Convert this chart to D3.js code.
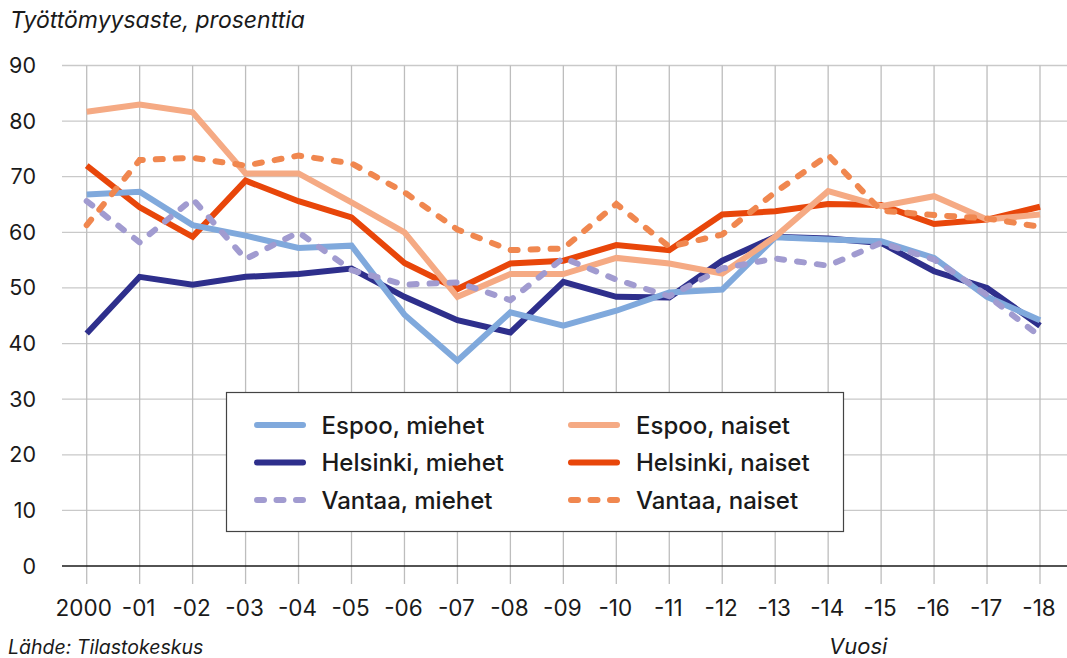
<!DOCTYPE html>
<html>
<head>
<meta charset="utf-8">
<script src="https://cdn.jsdelivr.net/npm/d3@7"></script>
<style>
  body { margin: 0; background: #fff; }
  svg { display: block; font-family: Inter, "Noto Sans", sans-serif; }
</style>
</head>
<body>
<div id="chart"></div>
<script>
// Years and tick labels
const years = d3.range(2000, 2019);
const yearLabels = ["2000", "-01", "-02", "-03", "-04", "-05", "-06", "-07", "-08", "-09",
                    "-10", "-11", "-12", "-13", "-14", "-15", "-16", "-17", "-18"];
const yTicks = [0, 10, 20, 30, 40, 50, 60, 70, 80, 90];

// Series values
const espooMiehet     = [66.8, 67.3, 61.3, 59.4, 57.2, 57.6, 45.2, 36.9, 45.6, 43.2, 45.9, 49.2, 49.7, 59.1, 58.7, 58.4, 55.4, 48.4, 44.2];
const espooNaiset     = [81.7, 83.0, 81.6, 70.6, 70.6, 65.4, 60.0, 48.4, 52.5, 52.5, 55.4, 54.4, 52.6, 59.2, 67.4, 64.7, 66.5, 62.3, 63.2];
const helsinkiMiehet  = [41.8, 52.0, 50.6, 52.0, 52.5, 53.5, 48.4, 44.2, 42.0, 51.1, 48.4, 48.3, 54.9, 59.2, 58.9, 58.1, 53.0, 50.0, 43.2];
const helsinkiNaiset  = [72.0, 64.5, 59.2, 69.3, 65.6, 62.7, 54.5, 49.8, 54.4, 54.9, 57.7, 56.8, 63.2, 63.8, 65.1, 64.9, 61.5, 62.3, 64.6];
const vantaaMiehet    = [65.6, 58.2, 66.0, 55.2, 60.0, 53.2, 50.6, 51.0, 47.8, 55.4, 51.5, 48.5, 53.5, 55.3, 54.0, 58.1, 55.1, 48.7, 41.3];
const vantaaNaiset    = [61.3, 73.0, 73.4, 72.0, 73.8, 72.4, 67.2, 60.5, 56.8, 57.1, 65.1, 57.4, 59.6, 67.2, 73.9, 63.9, 63.1, 62.5, 61.0];

const series = [
  { name: "Helsinki, miehet", values: helsinkiMiehet, color: "#2e2f8c", dashed: false },
  { name: "Helsinki, naiset", values: helsinkiNaiset, color: "#e8460a", dashed: false },
  { name: "Espoo, miehet",    values: espooMiehet,    color: "#80a9dc", dashed: false },
  { name: "Espoo, naiset",    values: espooNaiset,    color: "#f5aa84", dashed: false },
  { name: "Vantaa, miehet",   values: vantaaMiehet,   color: "#a19bd0", dashed: true },
  { name: "Vantaa, naiset",   values: vantaaNaiset,   color: "#f0874f", dashed: true }
];

// Legend layout: column-major like the original
const legendOrder = ["Espoo, miehet", "Helsinki, miehet", "Vantaa, miehet",
                     "Espoo, naiset", "Helsinki, naiset", "Vantaa, naiset"];

const width = 1067, height = 658;
const plotLeft = 62, plotRight = 1067;

const svg = d3.select("#chart").append("svg")
  .attr("width", width)
  .attr("height", height);

const x = d3.scalePoint()
  .domain(years)
  .range([86.7, 1040]);

const y = d3.scaleLinear()
  .domain([0, 90])
  .range([566, 65.5]);

// Horizontal grid
svg.append("g")
  .selectAll("line")
  .data(yTicks.filter(d => d !== 0))
  .join("line")
  .attr("x1", plotLeft).attr("x2", plotRight)
  .attr("y1", d => y(d)).attr("y2", d => y(d))
  .attr("stroke", "#c9c9c9")
  .attr("stroke-width", 1.3);

// Vertical grid (extends below baseline as tick marks)
svg.append("g")
  .selectAll("line")
  .data(years)
  .join("line")
  .attr("x1", d => x(d)).attr("x2", d => x(d))
  .attr("y1", y(90)).attr("y2", 584)
  .attr("stroke", "#bdbdbd")
  .attr("stroke-width", 1.3);

// Baseline
svg.append("line")
  .attr("x1", plotLeft).attr("x2", plotRight)
  .attr("y1", y(0)).attr("y2", y(0))
  .attr("stroke", "#1a1a1a")
  .attr("stroke-width", 1.6);

// Y tick labels
svg.append("g")
  .selectAll("text")
  .data(yTicks)
  .join("text")
  .attr("x", 36)
  .attr("y", d => y(d) + 7.5)
  .attr("text-anchor", "end")
  .attr("font-size", 21.5)
  .attr("fill", "#1a1a1a")
  .text(d => d);

// X tick labels
svg.append("g")
  .selectAll("text")
  .data(years)
  .join("text")
  .attr("x", (d, i) => x(d) - (i === 0 ? 3 : 1))
  .attr("y", 616)
  .attr("text-anchor", "middle")
  .attr("font-size", 22.5)
  .attr("fill", "#1a1a1a")
  .text((d, i) => yearLabels[i]);

// Lines
const line = d3.line()
  .x((d, i) => x(years[i]))
  .y(d => y(d));

svg.append("g")
  .selectAll("path")
  .data(series)
  .join("path")
  .attr("d", d => line(d.values))
  .attr("fill", "none")
  .attr("stroke", d => d.color)
  .attr("stroke-width", 6)
  .attr("stroke-linejoin", "miter")
  .attr("stroke-linecap", d => d.dashed ? "round" : "butt")
  .attr("stroke-dasharray", d => d.dashed ? "7,13" : null);

// Legend
const legend = svg.append("g");
legend.append("rect")
  .attr("x", 226.5).attr("y", 392.5)
  .attr("width", 617).attr("height", 139)
  .attr("fill", "#fff")
  .attr("stroke", "#444")
  .attr("stroke-width", 1.2);

const legendItems = legendOrder.map((name, i) => {
  const s = series.find(d => d.name === name);
  return { ...s, col: Math.floor(i / 3), row: i % 3 };
});

const colX = [254, 568];
const rowY = [425, 462.5, 500];

const item = legend.selectAll("g.item")
  .data(legendItems)
  .join("g")
  .attr("class", "item")
  .attr("transform", d => `translate(${colX[d.col]},${rowY[d.row]})`);

item.append("line")
  .attr("x1", 3).attr("x2", 49)
  .attr("y1", 0).attr("y2", 0)
  .attr("stroke", d => d.color)
  .attr("stroke-width", 6)
  .attr("stroke-linecap", "round")
  .attr("stroke-dasharray", d => d.dashed ? "7,12.5" : null);

item.append("text")
  .attr("x", d => d.col === 0 ? 67.5 : 68)
  .attr("y", 8.5)
  .attr("font-size", 24)
  .attr("font-weight", 500)
  .attr("fill", "#1a1a1a")
  .text(d => d.name);

// Titles
svg.append("text")
  .attr("x", 10).attr("y", 28)
  .attr("font-size", 23)
  .attr("font-style", "italic")
  .attr("fill", "#1a1a1a")
  .text("Työttömyysaste, prosenttia");

svg.append("text")
  .attr("x", 8).attr("y", 654)
  .attr("font-size", 19.5)
  .attr("font-style", "italic")
  .attr("fill", "#1a1a1a")
  .text("Lähde: Tilastokeskus");

svg.append("text")
  .attr("x", 829).attr("y", 654)
  .attr("font-size", 22)
  .attr("font-style", "italic")
  .attr("fill", "#1a1a1a")
  .text("Vuosi");
</script>
</body>
</html>
